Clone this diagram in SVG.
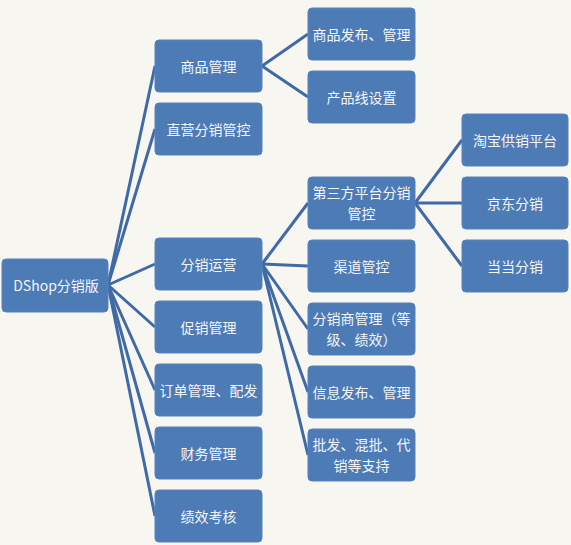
<svg xmlns="http://www.w3.org/2000/svg" width="571" height="545" viewBox="0 0 571 545">
<style>
.b{fill:#4c7bb6;stroke:#5683bc;stroke-width:1}
.t{fill:#f4f6fa;font-family:"Noto Sans CJK SC","Microsoft YaHei",sans-serif;font-size:14px;text-anchor:middle;dominant-baseline:central}
.c line{stroke:#3f6aa5;stroke-width:3}
</style>
<rect width="571" height="545" fill="#f7f6f1"/>
<g class="c">
<line x1="108" y1="285" x2="155" y2="66"/>
<line x1="108" y1="285" x2="155" y2="129"/>
<line x1="108" y1="285" x2="155" y2="264"/>
<line x1="108" y1="285" x2="155" y2="327"/>
<line x1="108" y1="285" x2="155" y2="390"/>
<line x1="108" y1="285" x2="155" y2="453"/>
<line x1="108" y1="285" x2="155" y2="516"/>
<line x1="262" y1="66" x2="308" y2="34"/>
<line x1="262" y1="66" x2="308" y2="97"/>
<line x1="262" y1="264" x2="308" y2="203"/>
<line x1="262" y1="264" x2="308" y2="266"/>
<line x1="262" y1="264" x2="308" y2="329"/>
<line x1="262" y1="264" x2="308" y2="392"/>
<line x1="262" y1="264" x2="308" y2="455"/>
<line x1="415" y1="203" x2="462" y2="140"/>
<line x1="415" y1="203" x2="462" y2="203"/>
<line x1="415" y1="203" x2="462" y2="266"/>
</g>
<g id="root"><rect class="b" x="2" y="259" width="106" height="53" rx="4"/><text class="t" x="56" y="285">DShop分销版</text></g>
<g id="n1"><rect class="b" x="155" y="40" width="107" height="52" rx="4"/><text class="t" x="208.5" y="66">商品管理</text></g>
<g id="n2"><rect class="b" x="155" y="103" width="107" height="52" rx="4"/><text class="t" x="208.5" y="129">直营分销管控</text></g>
<g id="n3"><rect class="b" x="155" y="238" width="107" height="52" rx="4"/><text class="t" x="208.5" y="264">分销运营</text></g>
<g id="n4"><rect class="b" x="155" y="301" width="107" height="52" rx="4"/><text class="t" x="208.5" y="327">促销管理</text></g>
<g id="n5"><rect class="b" x="155" y="364" width="107" height="52" rx="4"/><text class="t" x="208.5" y="390">订单管理、配发</text></g>
<g id="n6"><rect class="b" x="155" y="427" width="107" height="52" rx="4"/><text class="t" x="208.5" y="453">财务管理</text></g>
<g id="n7"><rect class="b" x="155" y="490" width="107" height="52" rx="4"/><text class="t" x="208.5" y="516">绩效考核</text></g>
<g id="n11"><rect class="b" x="308" y="8" width="107" height="52" rx="4"/><text class="t" x="361.5" y="34">商品发布、管理</text></g>
<g id="n12"><rect class="b" x="308" y="71" width="107" height="52" rx="4"/><text class="t" x="361.5" y="97">产品线设置</text></g>
<g id="n31"><rect class="b" x="308" y="177" width="107" height="52" rx="4"/><text class="t" x="361.5" y="192">第三方平台分销</text><text class="t" x="361.5" y="213">管控</text></g>
<g id="n32"><rect class="b" x="308" y="240" width="107" height="52" rx="4"/><text class="t" x="361.5" y="266">渠道管控</text></g>
<g id="n33"><rect class="b" x="308" y="303" width="107" height="52" rx="4"/><text class="t" x="361.5" y="318">分销商管理（等</text><text class="t" x="361.5" y="339">级、绩效）</text></g>
<g id="n34"><rect class="b" x="308" y="366" width="107" height="52" rx="4"/><text class="t" x="361.5" y="392">信息发布、管理</text></g>
<g id="n35"><rect class="b" x="308" y="429" width="107" height="52" rx="4"/><text class="t" x="361.5" y="444">批发、混批、代</text><text class="t" x="361.5" y="465">销等支持</text></g>
<g id="n311"><rect class="b" x="462" y="114" width="106" height="52" rx="4"/><text class="t" x="515" y="140">淘宝供销平台</text></g>
<g id="n312"><rect class="b" x="462" y="177" width="106" height="52" rx="4"/><text class="t" x="515" y="203">京东分销</text></g>
<g id="n313"><rect class="b" x="462" y="240" width="106" height="52" rx="4"/><text class="t" x="515" y="266">当当分销</text></g>
</svg>
